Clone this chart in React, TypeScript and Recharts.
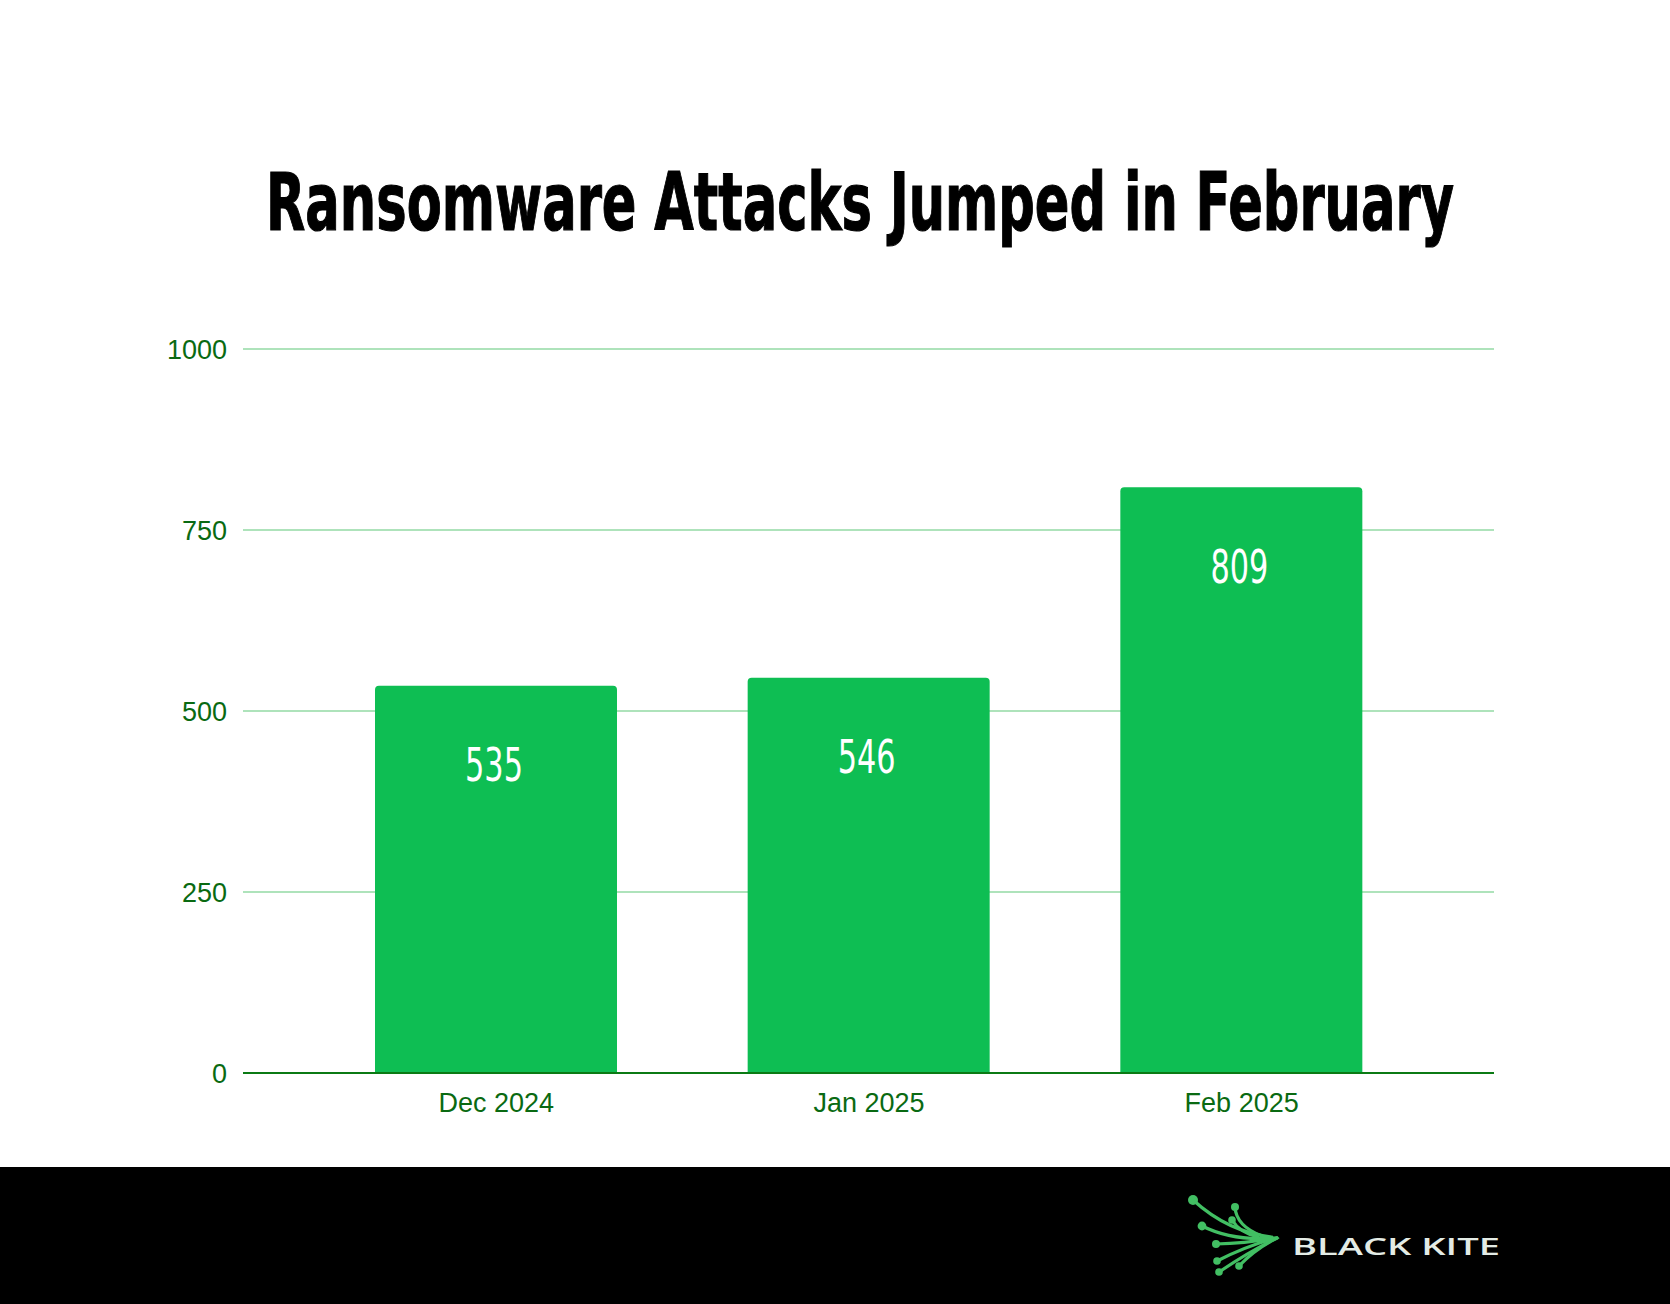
import React from "react";
import { BarChart, Bar, XAxis, YAxis, CartesianGrid, LabelList } from "recharts";

const categories = ["Dec 2024", "Jan 2025", "Feb 2025"];
const attacks = [535, 546, 809];
const yTicks = [0, 250, 500, 750, 1000];
const title = "Ransomware Attacks Jumped in February";
const brand = "BLACK KITE";

const data = categories.map((c, i) => ({ month: c, attacks: attacks[i] }));

const W = 1670;
const H = 1304;
const GREEN = "#0ebe53";
const TICK_COLOR = "#0a6a12";
const CONDENSED = "'Liberation Sans Narrow', 'DejaVu Sans Condensed', 'Liberation Sans', sans-serif";

const renderBarLabel = (props: any) => {
  const { x, y, width, value } = props;
  const s = String(value);
  const cx = Number(x) + Number(width) / 2 - 2;
  const cy = Number(y) + 80;
  return (
    <g transform={`translate(${cx},${cy}) scale(1,1.32)`}>
      <text
        x={0}
        y={0}
        fill="#ffffff"
        fontSize={35}
        fontFamily={CONDENSED}
        textAnchor="middle"
        dominantBaseline="central"
        textLength={s.length * 19.3}
        lengthAdjust="spacingAndGlyphs"
      >
        {s}
      </text>
    </g>
  );
};

const KiteIcon = () => {
  const c = "#42bf63";
  const lines = [
    "M1193,1200 Q1228,1232 1272,1237",
    "M1235,1207 Q1236,1226 1262,1236",
    "M1232,1220 Q1240,1233 1258,1237",
    "M1202,1226 Q1232,1241 1272,1238",
    "M1216,1244 Q1246,1243 1275,1238",
    "M1217,1261 Q1246,1246 1276,1238",
    "M1219,1272 Q1250,1251 1277,1238",
    "M1239,1266 Q1255,1249 1277,1238",
  ];
  const dots: [number, number, number][] = [
    [1193, 1200, 5.0],
    [1235, 1207, 4.0],
    [1232, 1220, 3.8],
    [1202, 1226, 4.4],
    [1216, 1244, 4.0],
    [1217, 1261, 3.8],
    [1219, 1272, 3.8],
    [1239, 1266, 3.8],
  ];
  return (
    <g>
      {lines.map((d, i) => (
        <path key={i} d={d} stroke={c} strokeWidth={3.2} fill="none" strokeLinecap="round" />
      ))}
      <path d="M1260,1235 L1280,1238 L1268,1243 Z" fill={c} />
      {dots.map(([cx, cy, r], i) => (
        <circle key={i} cx={cx} cy={cy} r={r} fill={c} />
      ))}
    </g>
  );
};

export default function App() {
  return (
    <div
      style={{
        position: "absolute",
        left: 0,
        top: 0,
        width: W,
        height: H,
        background: "#ffffff",
        overflow: "hidden",
      }}
    >
      <BarChart
        width={W}
        height={H}
        data={data}
        margin={{ top: 349, right: 176, bottom: 201, left: 163 }}
      >
        <CartesianGrid vertical={false} stroke="#aee3bb" strokeWidth={2} />
        <XAxis
          dataKey="month"
          height={30}
          padding={{ left: 67, right: 66 }}
          axisLine={{ stroke: "#0b7a14", strokeWidth: 2 }}
          tickLine={false}
          tickSize={0}
          tickMargin={20}
          tick={{ fill: TICK_COLOR, fontSize: 27, fontFamily: "'Liberation Sans', Arial, sans-serif" }}
        />
        <YAxis
          width={80}
          domain={[0, 1000]}
          ticks={yTicks}
          interval={0}
          axisLine={false}
          tickLine={false}
          tickSize={0}
          tickMargin={16}
          tick={{ fill: TICK_COLOR, fontSize: 27, fontFamily: "'Liberation Sans', Arial, sans-serif" }}
        />
        <Bar dataKey="attacks" fill={GREEN} barSize={242} radius={[4, 4, 0, 0]} isAnimationActive={false}>
          <LabelList dataKey="attacks" content={renderBarLabel} />
        </Bar>
      </BarChart>
      <svg
        width={W}
        height={H}
        style={{ position: "absolute", left: 0, top: 0, pointerEvents: "none" }}
      >
        <g transform="translate(266,230) scale(1,1.404)">
          <text
            x={0}
            y={0}
            fill="#000000"
            stroke="#000000"
            strokeWidth={0.8}
            fontSize={57}
            fontWeight={700}
            fontFamily={CONDENSED}
            textLength={1188}
            lengthAdjust="spacingAndGlyphs"
          >
            {title}
          </text>
        </g>
        <rect x={0} y={1167} width={W} height={H - 1167} fill="#000000" />
        <KiteIcon />
        <text
          x={1292}
          y={1255}
          fill="#e3ebe5"
          fontSize={24}
          fontWeight={600}
          fontFamily="'Open Sans', 'Noto Sans', sans-serif"
          textLength={208}
          lengthAdjust="spacingAndGlyphs"
        >
          {brand}
        </text>
      </svg>
    </div>
  );
}
